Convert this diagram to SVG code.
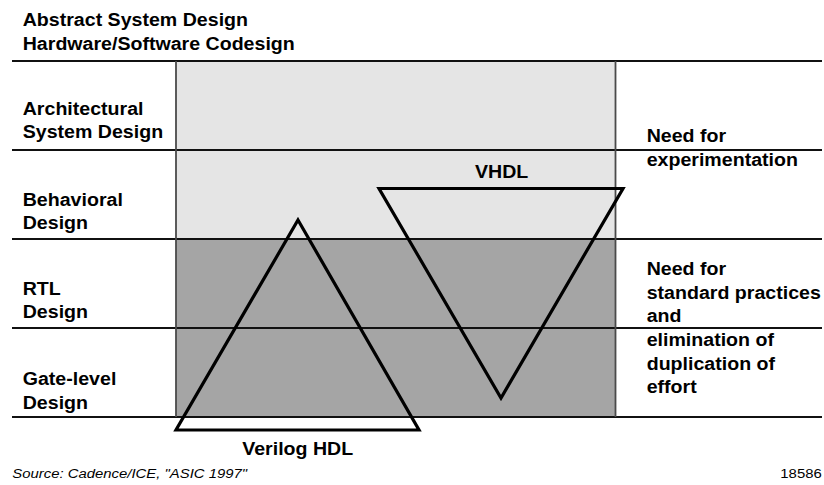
<svg xmlns="http://www.w3.org/2000/svg" width="824" height="485" viewBox="0 0 824 485">
  <style>
    .lbl { font-family: "Liberation Sans", Arial, sans-serif; font-weight: bold; font-size: 17.5px; fill: #000; }
    .note { font-family: "Liberation Sans", Arial, sans-serif; font-size: 13.3px; fill: #000; }
    .rule { stroke: #111; stroke-width: 2; fill: none; }
    .col { stroke: #4a4a4a; stroke-width: 1.8; fill: none; }
    .tri { stroke: #000; stroke-width: 3.2; fill: none; stroke-linejoin: miter; }
  </style>

  <rect width="824" height="485" fill="#fff"/>

  <!-- shaded design-level bands -->
  <g id="bands">
    <rect x="176" y="61" width="439.5" height="178" fill="#e5e5e5"/>
    <rect x="176" y="239" width="439.5" height="178" fill="#a5a5a5"/>
  </g>

  <!-- table rules -->
  <g id="grid">
    <line class="rule" x1="12" y1="61" x2="822" y2="61"/>
    <line class="rule" x1="12" y1="150" x2="822" y2="150"/>
    <line class="rule" x1="12" y1="239" x2="822" y2="239"/>
    <line class="rule" x1="12" y1="328" x2="822" y2="328"/>
    <line class="rule" x1="12" y1="417" x2="822" y2="417"/>
    <line class="col" x1="176" y1="61" x2="176" y2="417"/>
    <line class="col" x1="615.5" y1="61" x2="615.5" y2="417"/>
  </g>

  <!-- language coverage triangles -->
  <g id="verilog">
    <polygon class="tri" points="298,220 419,430 176,430"/>
  </g>
  <g id="vhdl">
    <polygon class="tri" points="379,188.5 623,188.5 501,398"/>
  </g>

  <!-- labels, widened horizontally -->
  <g id="labels" transform="scale(1.12,1)">
    <g id="title">
      <text class="lbl" x="20.3" y="26">Abstract System Design</text>
      <text class="lbl" x="20.3" y="50">Hardware/Software Codesign</text>
    </g>
    <g id="row-architectural">
      <text class="lbl" x="20.3" y="115">Architectural</text>
      <text class="lbl" x="20.3" y="138">System Design</text>
    </g>
    <g id="row-behavioral">
      <text class="lbl" x="20.3" y="206">Behavioral</text>
      <text class="lbl" x="20.3" y="229">Design</text>
    </g>
    <g id="row-rtl">
      <text class="lbl" x="20.3" y="295">RTL</text>
      <text class="lbl" x="20.3" y="318">Design</text>
    </g>
    <g id="row-gate">
      <text class="lbl" x="20.3" y="385.5">Gate-level</text>
      <text class="lbl" x="20.3" y="408.5">Design</text>
    </g>
    <g id="label-vhdl">
      <text class="lbl" x="447.9" y="178" text-anchor="middle">VHDL</text>
    </g>
    <g id="label-verilog">
      <text class="lbl" x="265.8" y="455" text-anchor="middle">Verilog HDL</text>
    </g>
    <g id="need-experimentation">
      <text class="lbl" x="577.4" y="142.5">Need for</text>
      <text class="lbl" x="577.4" y="166.5">experimentation</text>
    </g>
    <g id="need-standards">
      <text class="lbl" x="577.4" y="275.5">Need for</text>
      <text class="lbl" x="577.4" y="299">standard practices</text>
      <text class="lbl" x="577.4" y="322.5">and</text>
      <text class="lbl" x="577.4" y="346.5">elimination of</text>
      <text class="lbl" x="577.4" y="370">duplication of</text>
      <text class="lbl" x="577.4" y="393.5">effort</text>
    </g>
    <text class="note" x="11" y="478.5" font-style="italic">Source: Cadence/ICE, "ASIC 1997"</text>
    <text class="note" x="733.7" y="478.5" text-anchor="end">18586</text>
  </g>
</svg>
